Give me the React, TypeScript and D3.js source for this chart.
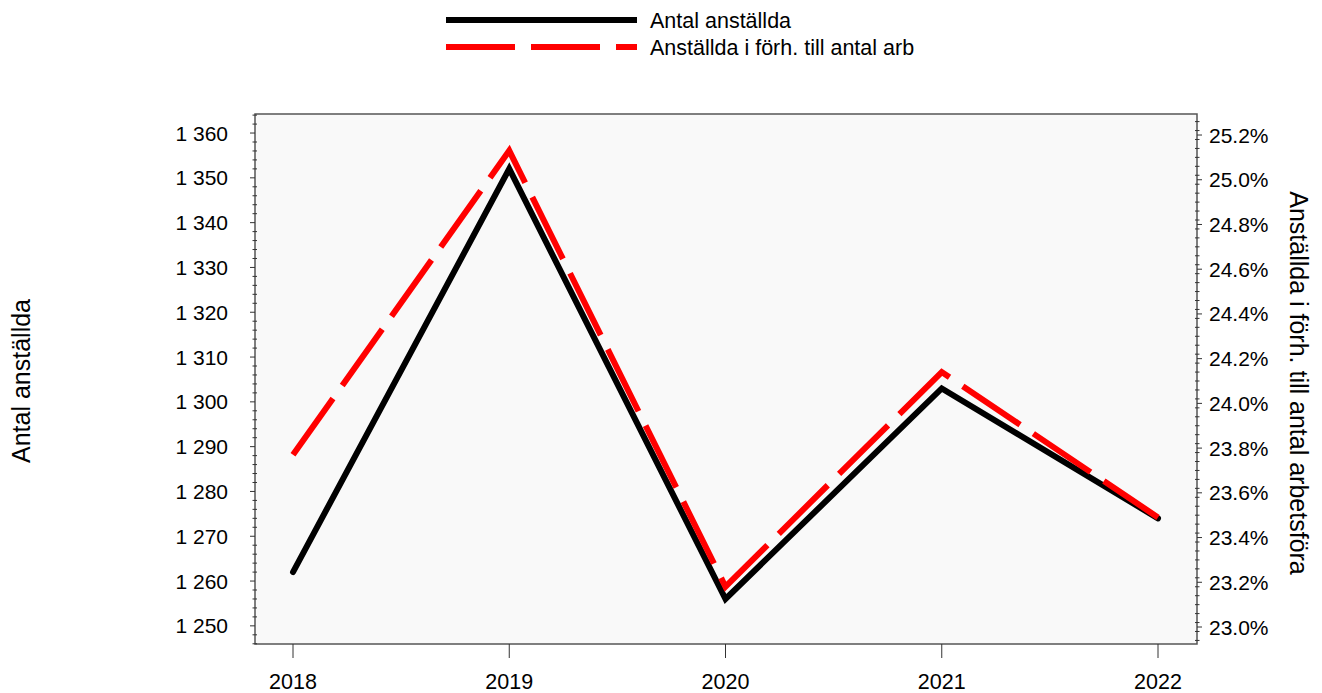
import React from "react";
import * as d3 from "d3";

const years = ["2018", "2019", "2020", "2021", "2022"];
const antalAnstallda = [1262, 1352, 1256, 1303, 1274];
const andelArbetsfora = [23.77, 25.13, 23.18, 24.14, 23.49];
const leftTicks = [1250, 1260, 1270, 1280, 1290, 1300, 1310, 1320, 1330, 1340, 1350, 1360];
const rightTicks = [23.0, 23.2, 23.4, 23.6, 23.8, 24.0, 24.2, 24.4, 24.6, 24.8, 25.0, 25.2];
const seriesNames = ["Antal anställda", "Anställda i förh. till antal arb"];
const leftTitle = "Antal anställda";
const rightTitle = "Anställda i förh. till antal arbetsföra";

const W = 1322, H = 693;
const PL = 255, PR = 1197, PT = 114, PB = 644;
const FONT = "Liberation Sans, Arial, sans-serif";

export default function App() {
  const x = d3.scalePoint<string>().domain(years).range([293, 1158]);
  const yL = d3.scaleLinear().domain([1245.95, 1364.25]).range([PB, PT]);
  const yR = d3.scaleLinear().domain([22.924, 25.294]).range([PB, PT]);

  const lineL = d3.line<number>().x((_, i) => x(years[i])!).y((d) => yL(d));
  const lineR = d3.line<number>().x((_, i) => x(years[i])!).y((d) => yR(d));

  const fmtL = (v: number) => {
    const s = String(v);
    return s.length > 3 ? s.slice(0, s.length - 3) + " " + s.slice(-3) : s;
  };
  const fmtR = (v: number) => v.toFixed(1) + "%";

  const minorL = d3.range(1246, 1365, 2).filter((v) => v % 10 !== 0);
  const minorR = d3.range(22.94, 25.3, 0.04).filter((v) => Math.abs(v * 5 - Math.round(v * 5)) > 0.01);

  return (
    <svg width={W} height={H} style={{ position: "absolute", left: 0, top: 0, display: "block" }} fontFamily={FONT}>
      <rect x={0} y={0} width={W} height={H} fill="#ffffff" />
      {/* Legend */}
      <line x1={446} x2={637} y1={20} y2={20} stroke="#000" strokeWidth={6} />
      <text x={650} y={28} fontSize={21.5} fill="#000">{seriesNames[0]}</text>
      <line x1={446} x2={637} y1={47} y2={47} stroke="#ff0000" strokeWidth={6} strokeDasharray="69 16" />
      <text x={650} y={55} fontSize={21.5} fill="#000">{seriesNames[1]}</text>

      {/* Plot area */}
      <rect x={PL} y={PT} width={PR - PL} height={PB - PT} fill="#f9f9f9" stroke="#555" strokeWidth={1.5} />

      {/* Left axis */}
      {leftTicks.map((t) => (
        <g key={"l" + t}>
          <line x1={PL - 5} x2={PL} y1={yL(t)} y2={yL(t)} stroke="#333" strokeWidth={1} />
          <text x={228} y={yL(t) + 7.5} fontSize={21} textAnchor="end" fill="#000">{fmtL(t)}</text>
        </g>
      ))}
      {minorL.map((t) => (
        <line key={"lm" + t} x1={PL - 2.5} x2={PL + 2} y1={yL(t)} y2={yL(t)} stroke="#333" strokeWidth={1} />
      ))}

      {/* Right axis */}
      {rightTicks.map((t) => (
        <g key={"r" + t}>
          <line x1={PR} x2={PR + 5} y1={yR(t)} y2={yR(t)} stroke="#333" strokeWidth={1} />
          <text x={1209} y={yR(t) + 7.5} fontSize={21} textAnchor="start" fill="#000">{fmtR(t)}</text>
        </g>
      ))}
      {minorR.map((t, i) => (
        <line key={"rm" + i} x1={PR - 2} x2={PR + 2.5} y1={yR(t)} y2={yR(t)} stroke="#333" strokeWidth={1} />
      ))}

      {/* X axis */}
      {years.map((yr) => (
        <g key={"x" + yr}>
          <line x1={x(yr)!} x2={x(yr)!} y1={PB} y2={PB + 14} stroke="#333" strokeWidth={1} />
          <text x={x(yr)!} y={689} fontSize={21.5} textAnchor="middle" fill="#000">{yr}</text>
        </g>
      ))}

      {/* Axis titles */}
      <text transform={`translate(30,381) rotate(-90)`} fontSize={25} textAnchor="middle" fill="#000">{leftTitle}</text>
      <text transform={`translate(1290,383) rotate(90)`} fontSize={25} textAnchor="middle" fill="#000">{rightTitle}</text>

      {/* Series */}
      <path d={lineL(antalAnstallda)!} fill="none" stroke="#000" strokeWidth={6} strokeLinecap="round" strokeLinejoin="miter" />
      <path d={lineR(andelArbetsfora)!} fill="none" stroke="#ff0000" strokeWidth={6} strokeDasharray="69 16" strokeLinejoin="miter" />
    </svg>
  );
}
